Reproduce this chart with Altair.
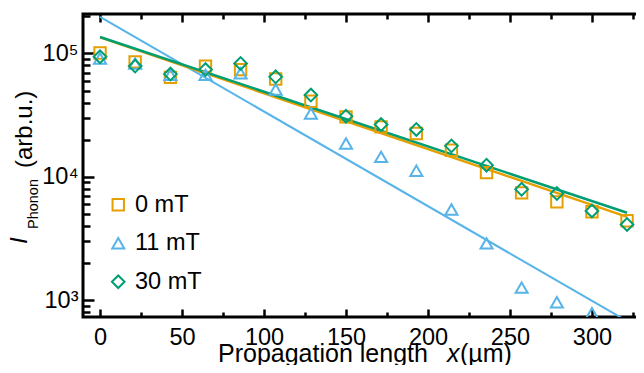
import altair as alt
import pandas as pd

# ---------------- data ----------------
series = ["0 mT", "11 mT", "30 mT"]
colors = ["#E69F00", "#56B4E9", "#009E73"]
shapes = ["square", "triangle-up", "diamond"]
marker_sizes = [130, 160, 180]

positions = [0, 21.4, 42.9, 64.3, 85.7, 107.1, 128.6, 150.0, 171.4, 192.9,
             214.3, 235.7, 257.1, 278.6, 300.0, 321.4]
i_0mT = [1.01e5, 8.55e4, 6.4e4, 7.9e4, 7.4e4, 6.2e4, 4.1e4, 3.06e4, 2.54e4,
         2.24e4, 1.64e4, 1.08e4, 7.4e3, 6.25e3, 5.2e3, 4.4e3]
i_11mT = [9.1e4, 8.3e4, 6.7e4, 6.7e4, 6.9e4, 5.1e4, 3.26e4, 1.86e4, 1.45e4,
          1.12e4, 5.43e3, 2.88e3, 1.26e3, 9.6e2, 7.8e2]
i_30mT = [9.4e4, 7.9e4, 6.8e4, 7.4e4, 8.3e4, 6.46e4, 4.6e4, 3.1e4, 2.65e4,
          2.42e4, 1.78e4, 1.24e4, 7.9e3, 7.3e3, 5.28e3, 4.1e3]

fit_x = [0, 321.4]
fit_0mT = [1.35e5, 4.73e3]
fit_11mT = [1.98e5, 6.75e2]
fit_30mT = [1.36e5, 5.1e3]

x_label_values = [0, 50, 100, 150, 200, 250, 300]
x_tick_values = [0, 25, 50, 75, 100, 125, 150, 175, 200, 225, 250, 275, 300, 325]
y_label_values = [1000, 10000, 100000]
y_tick_values = [800, 900, 1000, 2000, 3000, 4000, 5000, 6000, 7000, 8000, 9000,
                 10000, 20000, 30000, 40000, 50000, 60000, 70000, 80000, 90000,
                 100000, 200000]

x_title_parts = ["Propagation length", "x", "(µm)"]
y_title_parts = ["I", "Phonon", "(arb.u.)"]

# ---------------- tables ----------------
pts = pd.DataFrame(
    [{"x": x, "I": v, "field": s}
     for s, vals in zip(series, [i_0mT, i_11mT, i_30mT])
     for x, v in zip(positions, vals)]
)

W, H = 567, 303
FONT = "Liberation Sans"
FS = 23.5

x_scale = alt.Scale(domain=[-10.4, 335.4], nice=False, zero=False)
y_scale = alt.Scale(type="log", domain=[728, 2.09e5], nice=False)
color_scale = alt.Scale(domain=series, range=colors)
shape_scale = alt.Scale(domain=series, range=shapes)
size_scale = alt.Scale(domain=series, range=marker_sizes)

y_major_test = "datum.value == 1000 || datum.value == 10000 || datum.value == 100000"
x_major_test = "datum.value % 50 == 0"


def tick_axis_x(orient):
    return alt.Axis(orient=orient, offset=-H, values=x_tick_values, labels=False,
                    domain=False, grid=False, title=None, tickColor="black",
                    tickWidth=2.5,
                    tickSize={"condition": {"test": x_major_test, "value": 8}, "value": 5})


def tick_axis_y(orient):
    return alt.Axis(orient=orient, offset=-W, values=y_tick_values, labels=False,
                    domain=False, grid=False, title=None, tickColor="black",
                    tickWidth=2.5,
                    tickSize={"condition": {"test": y_major_test, "value": 11}, "value": 7})


def fit_line(vals, color, width, xaxis, yaxis):
    df = pd.DataFrame({"x": fit_x, "I": vals})
    return alt.Chart(df).mark_line(strokeWidth=width, clip=True, color=color).encode(
        x=alt.X("x:Q", scale=x_scale, axis=xaxis),
        y=alt.Y("I:Q", scale=y_scale, axis=yaxis),
    )


line_11 = fit_line(fit_11mT, colors[1], 2, tick_axis_x("bottom"), tick_axis_y("left"))
line_0 = fit_line(fit_0mT, colors[0], 2.5, tick_axis_x("top"), tick_axis_y("right"))
line_30 = fit_line(fit_30mT, colors[2], 2.5, None, None)

legend = alt.Legend(orient="none", legendX=23.5, legendY=179, title=None,
                    labelFont=FONT, labelFontSize=FS, labelColor="black",
                    symbolSize=65, symbolStrokeWidth=2, rowPadding=13.5,
                    labelOffset=5, padding=0)

points = alt.Chart(pts).mark_point(filled=False, strokeWidth=2, clip=True,
                                   opacity=1).encode(
    x=alt.X("x:Q", scale=x_scale,
            axis=alt.Axis(orient="bottom", values=x_label_values, ticks=False,
                          tickSize=0, domain=False, grid=False, title=None,
                          labelFont=FONT, labelFontSize=FS, labelColor="black",
                          labelPadding=8, labelFlush=False)),
    y=alt.Y("I:Q", scale=y_scale,
            axis=alt.Axis(orient="left", values=y_label_values, ticks=False,
                          tickSize=0, domain=False, grid=False, title=None,
                          labelFont=FONT, labelFontSize=FS, labelColor="black",
                          labelPadding=5,
                          labelExpr="datum.value == 1000 ? '10³' : datum.value == 10000 ? '10⁴' : '10⁵'")),
    color=alt.Color("field:N", scale=color_scale, legend=legend),
    shape=alt.Shape("field:N", scale=shape_scale, legend=legend),
    size=alt.Size("field:N", scale=size_scale, legend=None),
    order=alt.Order("field:N"),
)


def text_layer(txt, x, y, size, angle=0, italic=False):
    return alt.Chart(pd.DataFrame({"t": [txt]})).mark_text(
        font=FONT, fontSize=size, align="left", baseline="alphabetic",
        angle=angle, fontStyle="italic" if italic else "normal", color="black"
    ).encode(x=alt.value(x), y=alt.value(y), text="t:N")


titles = [
    text_layer(x_title_parts[0], 135, 348, 25),
    text_layer(x_title_parts[1], 364, 348, 25, italic=True),
    text_layer(x_title_parts[2], 377, 348, 25),
    text_layer(y_title_parts[0], -56, 230, 24, angle=270, italic=True),
    text_layer(y_title_parts[1], -45, 215, 14.5, angle=270),
    text_layer(y_title_parts[2], -51, 154, 24, angle=270),
]

chart = alt.layer(line_11, line_0, line_30, points, *titles).resolve_axis(
    x="independent", y="independent"
).properties(
    width=W, height=H,
    autosize=alt.AutoSizeParams(type="none"),
    padding={"left": 75, "top": 6, "right": -14, "bottom": 48},
).configure_view(stroke="black", strokeWidth=3)

chart.save("out.html", embed_options={"renderer": "svg", "actions": False})
